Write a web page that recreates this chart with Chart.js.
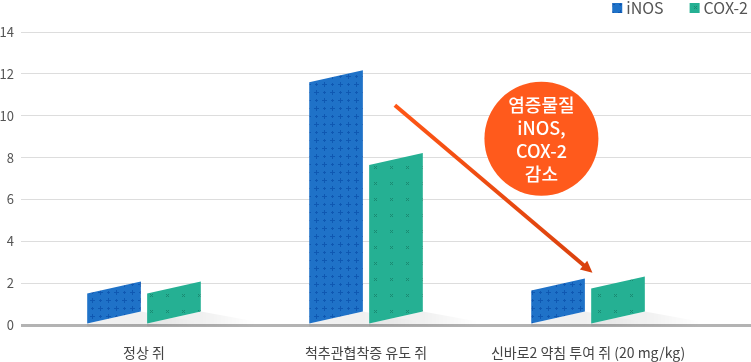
<!DOCTYPE html>
<html>
<head>
<meta charset="utf-8">
<script src="https://cdn.jsdelivr.net/npm/chart.js@4.4.1/dist/chart.umd.min.js"></script>
<style>
  html, body { margin: 0; padding: 0; background: #fff; }
  #chart { display: block; }
</style>
</head>
<body>
<canvas id="chart" width="751" height="362"></canvas>
<script>
// 데이터
const categories = ['정상 쥐', '척추관협착증 유도 쥐', '신바로2 약침 투여 쥐 (20 mg/kg)'];
const seriesNames = ['iNOS', 'COX-2'];
const inosValues = [1.5, 11.6, 1.65];
const coxValues = [1.5, 7.65, 1.75];
const yMax = 14;
const yStep = 2;
const calloutLines = ['염증물질', 'iNOS,', 'COX-2', '감소'];

const BLUE = '#1f72c8';
const GREEN = '#25b093';
const ORANGE = '#ff5a1c';
const SKEW = 12;
const FONT = '"Noto Sans CJK KR", "Noto Sans", sans-serif';

// 패턴 만들기
function makePattern(base, draw) {
    const c = document.createElement('canvas');
    c.width = 16; c.height = 16;
    const g = c.getContext('2d');
    g.fillStyle = base;
    g.fillRect(0, 0, 16, 16);
    draw(g);
    return document.getElementById('chart').getContext('2d').createPattern(c, 'repeat');
}

const bluePattern = makePattern(BLUE, g => {
    g.fillStyle = '#0f58b2';
    [[4, 4, 2], [12, 12, 2], [12, 4, 1], [4, 12, 1]].forEach(([x, y, s]) => {
        g.fillRect(x - s, y, s * 2 + 1, 1);
        g.fillRect(x, y - s, 1, s * 2 + 1);
    });
});

const greenPattern = makePattern(GREEN, g => {
    g.fillStyle = '#1a8a72';
    [[6, 6], [8, 6], [6, 8], [8, 8], [7, 7]].forEach(([x, y]) => g.fillRect(x, y, 1, 1));
});

const patterns = [bluePattern, greenPattern];

// 평행사변형 막대 그리기
const skewBars = {
    id: 'skewBars',
    beforeDatasetsDraw(chart) {
        const ctx = chart.ctx;
        ctx.save();
        chart.data.datasets.forEach((ds, di) => {
            chart.getDatasetMeta(di).data.forEach(bar => {
                const r = bar.x + bar.width / 2;
                const grad = ctx.createLinearGradient(r, 0, r + 55, 0);
                grad.addColorStop(0, 'rgba(0,0,0,0.06)');
                grad.addColorStop(1, 'rgba(0,0,0,0)');
                ctx.fillStyle = grad;
                ctx.beginPath();
                ctx.moveTo(bar.x - bar.width / 2, bar.base);
                ctx.lineTo(r, bar.base - SKEW);
                ctx.lineTo(r + 55, bar.base - 2);
                ctx.lineTo(r + 55, bar.base + 3);
                ctx.lineTo(bar.x - bar.width / 2, bar.base + 3);
                ctx.closePath();
                ctx.fill();
            });
        });
        ctx.restore();
    },
    afterDatasetsDraw(chart) {
        const ctx = chart.ctx;
        ctx.save();
        chart.data.datasets.forEach((ds, di) => {
            chart.getDatasetMeta(di).data.forEach(bar => {
                const l = bar.x - bar.width / 2;
                const r = bar.x + bar.width / 2;
                ctx.fillStyle = patterns[di];
                ctx.beginPath();
                ctx.moveTo(l, bar.base);
                ctx.lineTo(l, bar.y);
                ctx.lineTo(r, bar.y - SKEW);
                ctx.lineTo(r, bar.base - SKEW);
                ctx.closePath();
                ctx.fill();
            });
        });
        ctx.restore();
    },
    afterDraw(chart) {
        const ctx = chart.ctx;
        const xs = chart.scales.x;
        const ys = chart.scales.y;
        ctx.save();

        // 범례
        ctx.font = '16px ' + FONT;
        ctx.textBaseline = 'middle';
        let lx = chart.width - 3;
        for (let i = seriesNames.length - 1; i >= 0; i--) {
            const w = ctx.measureText(seriesNames[i]).width;
            lx -= w;
            ctx.fillStyle = '#555';
            ctx.fillText(seriesNames[i], lx, 8);
            lx -= 14;
            ctx.fillStyle = patterns[i];
            ctx.fillRect(lx, 3, 10, 10);
            lx -= 26;
        }

        // 화살표
        const x1 = xs.getPixelForValue(1.13), y1 = ys.getPixelForValue(10.5);
        const x2 = xs.getPixelForValue(2.02), y2 = ys.getPixelForValue(2.5);
        const grad = ctx.createLinearGradient(x1, y1, x2, y2);
        grad.addColorStop(0, '#ff5616');
        grad.addColorStop(1, '#d9410d');
        const ang = Math.atan2(y2 - y1, x2 - x1);
        ctx.strokeStyle = grad;
        ctx.lineWidth = 4;
        ctx.beginPath();
        ctx.moveTo(x1, y1);
        ctx.lineTo(x2 - 8 * Math.cos(ang), y2 - 8 * Math.sin(ang));
        ctx.stroke();
        ctx.fillStyle = '#d9410d';
        ctx.beginPath();
        ctx.moveTo(x2, y2);
        ctx.lineTo(x2 - 13 * Math.cos(ang - 0.45), y2 - 13 * Math.sin(ang - 0.45));
        ctx.lineTo(x2 - 13 * Math.cos(ang + 0.45), y2 - 13 * Math.sin(ang + 0.45));
        ctx.closePath();
        ctx.fill();

        // 원형 설명
        const cx = xs.getPixelForValue(1.79), cy = ys.getPixelForValue(8.9);
        ctx.fillStyle = ORANGE;
        ctx.beginPath();
        ctx.arc(cx, cy, 57, 0, Math.PI * 2);
        ctx.fill();
        ctx.fillStyle = '#fff';
        ctx.font = '500 18px ' + FONT;
        ctx.textAlign = 'center';
        calloutLines.forEach((t, i) => ctx.fillText(t, cx, cy - 34 + i * 23));
        ctx.restore();
    }
};

new Chart(document.getElementById('chart'), {
    type: 'bar',
    data: {
        datasets: [
            { label: seriesNames[0], data: inosValues.map((v, i) => ({ x: i, y: v })), backgroundColor: 'rgba(0,0,0,0)' },
            { label: seriesNames[1], data: coxValues.map((v, i) => ({ x: i, y: v })), backgroundColor: 'rgba(0,0,0,0)' }
        ]
    },
    options: {
        responsive: false,
        animation: false,
        categoryPercentage: 0.54,
        barPercentage: 0.895,
        layout: { padding: { top: 32, right: 0, bottom: 0, left: 0 } },
        scales: {
            x: {
                type: 'linear',
                min: -0.554,
                max: 2.734,
                offset: false,
                afterBuildTicks: scale => { scale.ticks = categories.map((c, i) => ({ value: i })); },
                afterFit: scale => { scale.height = 37; },
                grid: { display: false, offset: false },
                border: { display: false },
                ticks: {
                    padding: 11,
                    maxRotation: 0,
                    minRotation: 0,
                    autoSkip: false,
                    color: '#444',
                    font: { family: FONT, size: 14 },
                    callback: v => categories[v]
                }
            },
            y: {
                min: 0,
                max: yMax,
                afterFit: scale => { scale.width = 21; },
                ticks: { stepSize: yStep, padding: 7, color: '#555', font: { family: FONT, size: 13 } },
                border: { display: false },
                grid: {
                    drawTicks: false,
                    color: c => c.tick.value === 0 ? '#b3b3b3' : '#dddddd',
                    lineWidth: c => c.tick.value === 0 ? 3 : 1
                }
            }
        },
        plugins: {
            legend: { display: false },
            tooltip: { enabled: false }
        }
    },
    plugins: [skewBars]
});
</script>
</body>
</html>
